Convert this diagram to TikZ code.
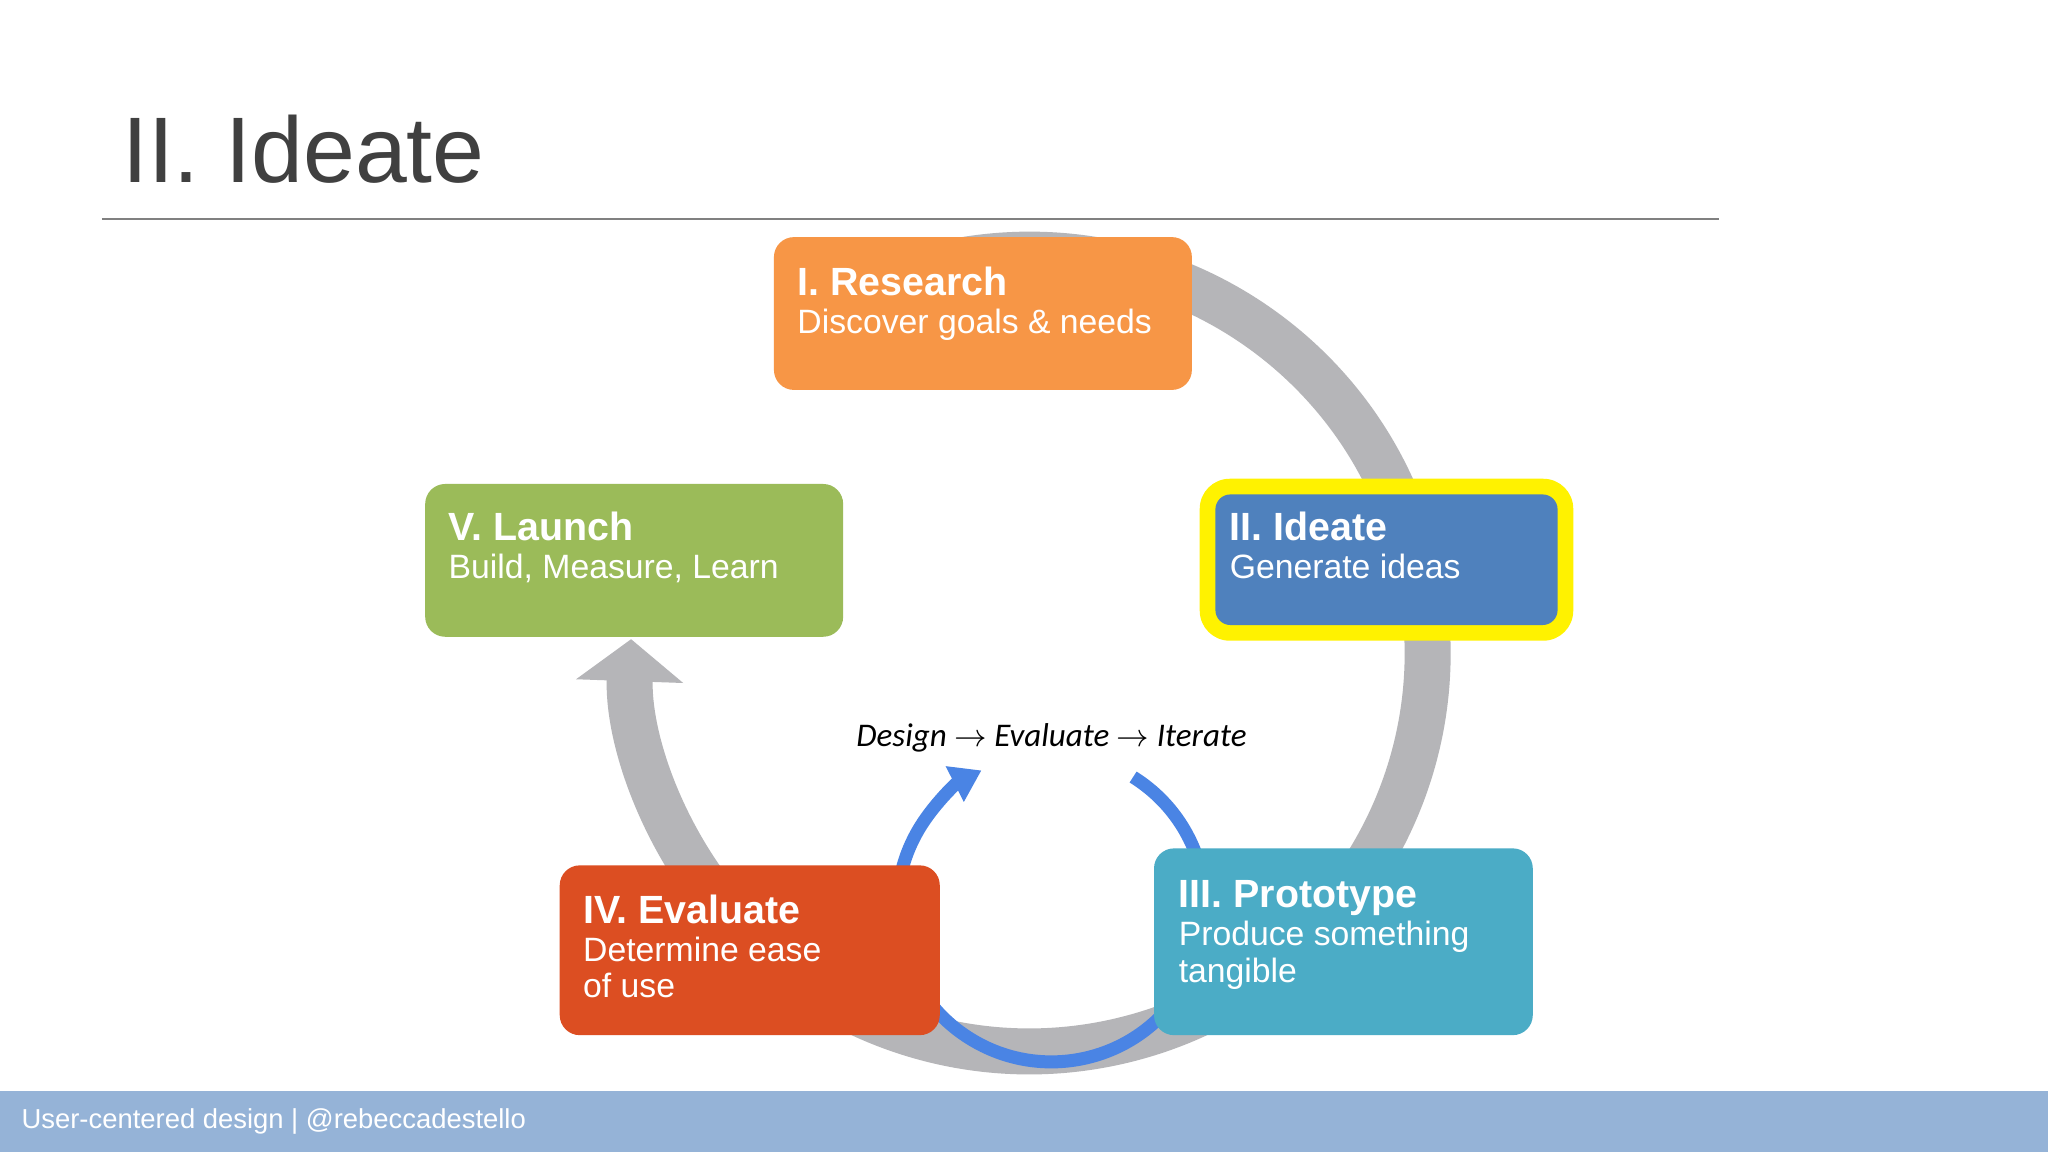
\documentclass[tikz,border=0pt]{standalone}
\usepackage{fontspec}
\setmainfont{Liberation Sans}
\newfontfamily\carl{Carlito}
\usetikzlibrary{arrows.meta}
\definecolor{cOrange}{HTML}{F79646}
\definecolor{cBlue}{HTML}{4F81BD}
\definecolor{cGreen}{HTML}{9BBB59}
\definecolor{cRed}{HTML}{DC4E22}
\definecolor{cTeal}{HTML}{4BACC6}
\definecolor{cFoot}{HTML}{95B3D7}
\definecolor{cGray}{HTML}{B5B5B8}
\definecolor{cArc}{HTML}{4A84E4}
\definecolor{cTitle}{HTML}{404040}
\begin{document}
\begin{tikzpicture}[x=0.01306cm,y=-0.01306cm,
  box/.style={draw=none,rounded corners=0.2cm,anchor=north west,inner sep=0pt},
  ttl/.style={anchor=base west,text=white,font=\bfseries\fontsize{11.2}{12}\selectfont,inner sep=0pt},
  sub/.style={anchor=base west,text=white,font=\fontsize{9.6}{10.7}\selectfont,inner sep=0pt}]
\useasboundingbox (0,0) rectangle (1568,882);
\fill[white] (0,0) rectangle (1568,882);
% title
\node[anchor=base west,text=cTitle,font=\fontsize{26.5}{28}\selectfont,inner sep=0pt] (title) at (93,140) {II. Ideate};
\coordinate (l1) at (78,168); \coordinate (l2) at (1316,168);
\draw[gray,line width=0.6pt] (l1) -- (l2);
% gray cycle
\coordinate (gc) at (788,500);
\draw[cGray,line width=0.46cm,-{Triangle[length=0.42cm,width=1.05cm]}] (gc) ++(-100:305) arc[start angle=-100,end angle=182,radius=305];
% blue arc
\coordinate (bc) at (805,695);
\draw[cArc,line width=0.13cm,-{Triangle[length=0.3cm,width=0.38cm]}] (bc) ++(-58:118) arc[start angle=-58,end angle=243,radius=118];
% boxes
\node[box,fill=cOrange,minimum width=320*0.01306cm,minimum height=117*0.01306cm] (research) at (592,181) {};
\node[box,fill=yellow,rounded corners=0.3cm,minimum width=286*0.01306cm,minimum height=124*0.01306cm] (ideatehl) at (918,366) {};
\node[box,fill=cBlue,rounded corners=0.15cm,minimum width=262*0.01306cm,minimum height=100*0.01306cm] (ideate) at (930,378) {};
\node[box,fill=cGreen,minimum width=320*0.01306cm,minimum height=117*0.01306cm] (launch) at (325,370) {};
\node[box,fill=cRed,minimum width=291*0.01306cm,minimum height=130*0.01306cm] (evaluate) at (428,662) {};
\node[box,fill=cTeal,minimum width=290*0.01306cm,minimum height=143*0.01306cm] (prototype) at (883,649) {};
% texts
\node[ttl] (t1) at (610,226) {I. Research};
\node[sub] (s1) at (610,255) {Discover goals \& needs};
\node[ttl] (t2) at (941,414) {II. Ideate};
\node[sub] (s2) at (941,443) {Generate ideas};
\node[ttl] (t5) at (343,414) {V. Launch};
\node[sub] (s5) at (343,443) {Build, Measure, Learn};
\node[ttl] (t4) at (446,707) {IV. Evaluate};
\node[sub] (s4) at (446,736) {Determine ease};
\node[sub] (s4b) at (446,764) {of use};
\node[ttl] (t3) at (902,695) {III. Prototype};
\node[sub] (s3) at (902,724) {Produce something};
\node[sub] (s3b) at (902,752) {tangible};
\node[font=\carl\itshape\fontsize{9.4}{10}\selectfont,text=black,inner sep=0pt] (dei) at (805,565) {Design $\rightarrow$ Evaluate $\rightarrow$ Iterate};
% footer
\fill[cFoot] (0,835) rectangle (1568,882);
\node[anchor=base west,text=white,font=\fontsize{7.8}{9}\selectfont,inner sep=0pt] (foot) at (16,864) {User-centered design | @rebeccadestello};
\end{tikzpicture}
\end{document}
